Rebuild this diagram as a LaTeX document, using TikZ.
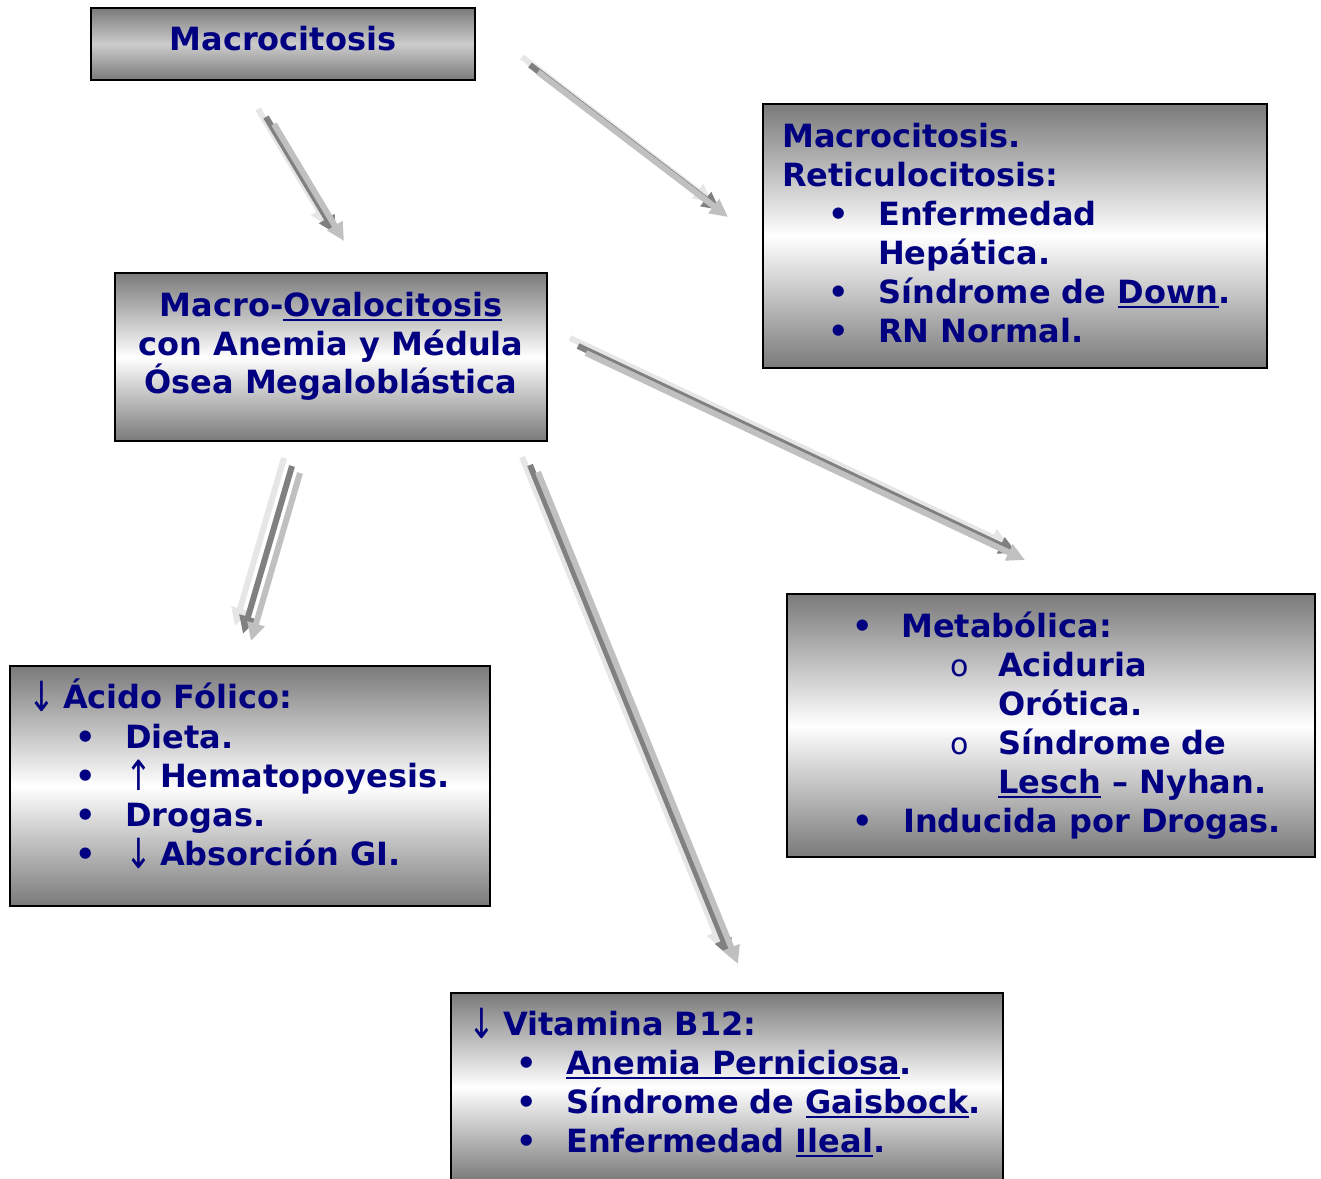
\documentclass[tikz,border=0pt]{standalone}
\usepackage{fontspec}
\usepackage{graphicx}
\setmainfont{DejaVu Sans}
\usetikzlibrary{arrows.meta}
\definecolor{navy}{HTML}{000080}
\definecolor{boxdark}{HTML}{7A7A7A}
\definecolor{arrL}{HTML}{E6E6E6}
\definecolor{arrD}{HTML}{808080}
\definecolor{arrM}{HTML}{C0C0C0}
\newcommand\myul[1]{\setbox0\hbox{#1}\rlap{\rule[-5pt]{\wd0}{2.4pt}}\box0\relax}
\newcommand\thin[1]{\raisebox{-3pt}{\scalebox{1}[1.3]{\mdseries #1}}\kern8pt}
\newcommand\sarrow[2]{%
  \draw[arrowL] ([shift={(-8,-8)}]#1) -- ([shift={(-8,-8)}]#2);
  \draw[arrowD] (#1) -- (#2);
  \draw[arrowM] ([shift={(8,7)}]#1) -- ([shift={(8,7)}]#2);}
\begin{document}
\begin{tikzpicture}[x=1pt,y=-1pt,
  box/.style={draw=black, line width=2pt, inner sep=0pt,
    top color=boxdark, bottom color=boxdark, middle color=white},
  txt/.style={inner sep=0pt, anchor=base west, text=navy,
    font=\fontsize{32}{39}\selectfont\bfseries},
  bul/.style={txt, anchor=base},
  arrowbase/.style={line width=6pt, -{Triangle[length=18pt,width=17pt]}},
  arrowL/.style={arrowbase, draw=arrL, fill=arrL},
  arrowD/.style={arrowbase, draw=arrD, fill=arrD},
  arrowM/.style={arrowbase, draw=arrM, fill=arrM}]
\useasboundingbox (0,0) rectangle (1321,1178);
\clip (0,0) rectangle (1321,1178);
\fill[white] (0,0) rectangle (1321,1178);

% boxes
\node[box, minimum width=384pt, minimum height=72pt, middle color=gray!40] (b1) at (283,44) {};
\node[box, minimum width=504pt, minimum height=264pt] (b2) at (1015,236) {};
\node[box, minimum width=432pt, minimum height=168pt] (b3) at (331,357) {};
\node[box, minimum width=480pt, minimum height=240pt] (b4) at (250,786) {};
\node[box, minimum width=528pt, minimum height=263pt] (b5) at (1051,725.5) {};
\node[box, minimum width=552pt, minimum height=188pt] (b6) at (727,1087) {};

% box 1
\node[txt, anchor=base] (t1) at (283,50) {Macrocitosis};

% box 2
\node[txt] (t2a) at (782,147) {Macrocitosis.};
\node[txt] (t2b) at (782,186) {Reticulocitosis:};
\node[bul] (u2a) at (839,225) {•};
\node[txt] (t2c) at (878,225) {Enfermedad};
\node[txt] (t2d) at (878,264) {Hepática.};
\node[bul] (u2b) at (839,303) {•};
\node[txt] (t2e) at (878,303) {Síndrome de \myul{Down}.};
\node[bul] (u2c) at (839,342) {•};
\node[txt] (t2f) at (878,342) {RN Normal.};

% box 3
\node[txt, anchor=base] (t3a) at (331,316) {Macro-\myul{Ovalocitosis}};
\node[txt, anchor=base] (t3b) at (331,355) {con Anemia y Médula};
\node[txt, anchor=base] (t3c) at (331,393) {Ósea Megaloblástica};

% box 4
\node[txt] (t4a) at (28,708) {\thin{↓}Ácido Fólico:};
\node[bul] (u4a) at (86,748) {•};
\node[txt] (t4b) at (125,748) {Dieta.};
\node[bul] (u4b) at (86,787) {•};
\node[txt] (t4c) at (125,787) {\thin{↑}Hematopoyesis.};
\node[bul] (u4c) at (86,826) {•};
\node[txt] (t4d) at (125,826) {Drogas.};
\node[bul] (u4d) at (86,865) {•};
\node[txt] (t4e) at (125,865) {\thin{↓}Absorción GI.};

% box 5
\node[bul] (u5a) at (863,637) {•};
\node[txt] (t5a) at (901,637) {Metabólica:};
\node[bul, font=\fontsize{30}{39}\selectfont\mdseries] (o5a) at (960,676) {o};
\node[txt] (t5b) at (998,676) {Aciduria};
\node[txt] (t5c) at (998,715) {Orótica.};
\node[bul, font=\fontsize{30}{39}\selectfont\mdseries] (o5b) at (960,754) {o};
\node[txt] (t5d) at (998,754) {Síndrome de};
\node[txt] (t5e) at (998,793) {\myul{Lesch} – Nyhan.};
\node[bul] (u5b) at (863,832) {•};
\node[txt] (t5f) at (903,832) {Inducida por Drogas.};

% box 6
\node[txt] (t6a) at (468,1035) {\thin{↓}Vitamina B12:};
\node[bul] (u6a) at (527,1074) {•};
\node[txt] (t6b) at (566,1074) {\myul{Anemia Perniciosa}.};
\node[bul] (u6b) at (527,1113) {•};
\node[txt] (t6c) at (566,1113) {Síndrome de \myul{Gaisbock}.};
\node[bul] (u6c) at (527,1152) {•};
\node[txt] (t6d) at (566,1152) {Enfermedad \myul{Ileal}.};

% arrows
\coordinate (a1s) at (266,117); \coordinate (a1e) at (336,234);
\coordinate (a2s) at (530,65);  \coordinate (a2e) at (720,210);
\coordinate (a3s) at (292,466); \coordinate (a3e) at (243,634);
\coordinate (a4s) at (530,465); \coordinate (a4e) at (730,957);
\coordinate (a5s) at (578,346); \coordinate (a5e) at (1017,553);
\sarrow{a1s}{a1e}
\sarrow{a2s}{a2e}
\sarrow{a3s}{a3e}
\sarrow{a4s}{a4e}
\sarrow{a5s}{a5e}
\end{tikzpicture}
\end{document}
